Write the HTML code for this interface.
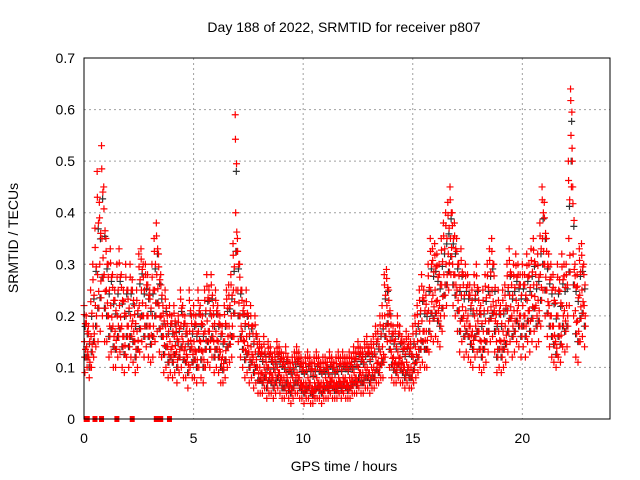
<!DOCTYPE html>
<html><head><meta charset="utf-8"><style>
body{margin:0;background:#fff;}
svg{display:block;font-family:"Liberation Sans",sans-serif;}
</style></head><body>
<svg id="chart" width="640" height="480" xmlns="http://www.w3.org/2000/svg">
<rect width="640" height="480" fill="#fff"/>
<text x="344" y="32" font-size="14" text-anchor="middle">Day 188 of 2022, SRMTID for receiver p807</text>
<text transform="translate(18,238) rotate(-90)" font-size="14" text-anchor="middle">SRMTID / TECUs</text>
<text x="344" y="471" font-size="14" text-anchor="middle">GPS time / hours</text>
<g id="grid"></g><g id="marks"></g>
<rect x="84" y="58" width="526" height="361" fill="none" stroke="#000" stroke-width="1"/>
</svg>
<script>
const xTicks=[0,5,10,15,20];
const yTicks=[0,0.1,0.2,0.3,0.4,0.5,0.6,0.7];
const yTickLabels=["0","0.1","0.2","0.3","0.4","0.5","0.6","0.7"];
const tStart=0, tStep=0.1;
const hi=[.22,.20,.18,.25,.30,.37,.48,.42,.53,.45,.35,.30,.33,.28,.25,.30,.33,.28,.25,.30,.25,.30,.27,.22,.25,.32,.33,.30,.30,.28,.25,.30,.35,.38,.32,.28,.22,.25,.20,.22,.20,.22,.18,.20,.25,.22,.20,.18,.25,.20,.22,.20,.25,.22,.20,.25,.28,.25,.28,.22,.25,.22,.20,.18,.22,.25,.26,.28,.34,.59,.35,.30,.25,.22,.25,.20,.22,.18,.20,.16,.15,.14,.16,.12,.15,.14,.12,.13,.15,.14,.13,.12,.14,.12,.11,.12,.13,.14,.13,.12,.11,.12,.13,.12,.11,.12,.13,.12,.11,.12,.12,.11,.13,.12,.11,.12,.13,.12,.13,.12,.12,.13,.12,.14,.13,.15,.14,.13,.15,.16,.14,.15,.16,.18,.17,.20,.22,.28,.29,.25,.20,.18,.17,.20,.18,.16,.15,.17,.16,.15,.18,.20,.22,.25,.28,.25,.24,.30,.35,.33,.34,.32,.30,.35,.38,.40,.42,.45,.40,.38,.35,.30,.33,.28,.30,.28,.26,.25,.28,.30,.25,.22,.25,.28,.30,.33,.35,.30,.22,.25,.22,.25,.26,.30,.33,.28,.30,.32,.30,.28,.30,.28,.32,.30,.33,.35,.30,.32,.38,.45,.42,.35,.32,.30,.28,.25,.30,.27,.32,.30,.30,.50,.64,.45,.30,.28,.33,.34,.30];
const mid=[.15,.14,.12,.16,.18,.22,.28,.30,.35,.28,.25,.20,.22,.18,.17,.20,.22,.18,.16,.20,.18,.20,.19,.15,.17,.22,.25,.20,.22,.20,.18,.20,.25,.28,.22,.20,.16,.18,.14,.15,.14,.16,.13,.15,.18,.15,.14,.12,.17,.14,.15,.13,.17,.15,.13,.17,.19,.17,.20,.15,.17,.15,.13,.12,.15,.18,.18,.20,.25,.40,.25,.20,.17,.15,.16,.13,.14,.12,.13,.10,.10,.09,.10,.08,.10,.09,.08,.09,.10,.09,.08,.08,.09,.07,.07,.08,.09,.09,.08,.07,.07,.07,.08,.07,.06,.07,.08,.07,.07,.07,.08,.07,.08,.08,.07,.07,.08,.07,.08,.08,.07,.08,.08,.09,.08,.10,.09,.09,.10,.10,.09,.10,.10,.12,.11,.13,.14,.20,.22,.17,.13,.12,.11,.13,.12,.11,.10,.11,.10,.10,.12,.14,.15,.17,.19,.17,.17,.21,.25,.24,.25,.23,.22,.26,.28,.30,.32,.35,.30,.28,.25,.21,.24,.20,.21,.20,.18,.17,.20,.21,.17,.15,.17,.19,.21,.24,.25,.21,.15,.17,.15,.17,.18,.21,.24,.20,.21,.23,.22,.20,.22,.20,.23,.21,.24,.26,.22,.23,.28,.35,.30,.25,.22,.20,.18,.15,.20,.18,.22,.21,.22,.35,.55,.32,.21,.19,.24,.25,.22];
const lo=[.09,.10,.08,.10,.12,.14,.15,.17,.20,.15,.15,.12,.13,.10,.10,.12,.13,.10,.09,.12,.10,.12,.11,.09,.10,.13,.15,.12,.14,.12,.11,.12,.15,.17,.13,.12,.09,.10,.08,.09,.08,.09,.07,.09,.10,.08,.08,.06,.10,.08,.08,.07,.10,.08,.07,.10,.11,.10,.12,.09,.10,.09,.07,.07,.08,.10,.11,.12,.16,.25,.15,.12,.10,.08,.09,.07,.08,.06,.07,.05,.05,.05,.06,.04,.05,.05,.04,.05,.06,.05,.04,.04,.05,.04,.03,.04,.05,.05,.04,.04,.03,.04,.04,.03,.03,.04,.04,.04,.03,.04,.04,.04,.05,.04,.04,.04,.05,.04,.05,.04,.04,.04,.05,.05,.05,.06,.05,.05,.06,.06,.05,.06,.06,.07,.07,.08,.08,.12,.15,.10,.08,.07,.07,.08,.07,.07,.06,.07,.06,.06,.07,.08,.09,.10,.11,.10,.10,.13,.16,.15,.16,.15,.14,.17,.20,.22,.25,.28,.22,.20,.17,.13,.15,.12,.13,.12,.11,.10,.12,.13,.10,.09,.10,.11,.13,.15,.16,.13,.09,.10,.09,.10,.11,.13,.15,.12,.13,.15,.14,.12,.14,.12,.15,.13,.15,.17,.14,.15,.18,.25,.20,.16,.14,.12,.11,.10,.12,.11,.14,.13,.14,.22,.45,.20,.12,.11,.15,.16,.14];
const zeroTimes=[0.1,0.15,0.5,0.8,1.5,2.2,3.3,3.4,3.5,3.9];

const X0=84,X1=610,Y0=419,Y1=58;
const xs=t=>X0+t/24*(X1-X0);
const ys=v=>Y0-v/0.7*(Y0-Y1);
const NS="http://www.w3.org/2000/svg";
const grid=document.getElementById('grid'), marks=document.getElementById('marks');
function mk(tag,attrs,parent){const e=document.createElementNS(NS,tag);for(const k in attrs)e.setAttribute(k,attrs[k]);parent.appendChild(e);return e;}
yTicks.forEach((v,i)=>{
  const y=ys(v);
  if(i>0&&i<yTicks.length-1){const l=mk('line',{x1:X0,x2:X1,y1:y,y2:y,stroke:'#a0a0a0','stroke-dasharray':'2,3'},grid);
  
  }
  const t=mk('text',{x:75,y:y+5,'font-size':14,'text-anchor':'end'},grid);t.textContent=yTickLabels[i];
  
  
});
xTicks.forEach(v=>{
  const x=xs(v);
  if(v>0){const l=mk('line',{x1:x,x2:x,y1:Y1,y2:Y0,stroke:'#a0a0a0','stroke-dasharray':'2,3'},grid);
  
  }
  const t=mk('text',{x:x,y:443,'font-size':14,'text-anchor':'middle'},grid);t.textContent=String(v);
  
  
});
function plus(t,v,color,name){
  const x=xs(t),y=ys(v);
  const p=mk('path',{d:`M${x-3.5},${y}h7M${x},${y-3.5}v7`,stroke:color,'stroke-width':1.2,fill:'none'},marks);
  
  
}
for(let i=0;i<hi.length;i++){
  const t=tStart+i*tStep;
  plus(t+0.05,(hi[i]+mid[i])/2*0.97,'#333','black-point');
  plus(t+0.03,(mid[i]+lo[i])/2,'#333','black-point');
}
for(let i=0;i<hi.length;i++){
  const t=tStart+i*tStep;
  plus(t,hi[i],'#f00','red-point');
  plus(t+0.02,mid[i],'#f00','red-point');
  plus(t+0.04,lo[i],'#f00','red-point');
  plus(t+0.06,(hi[i]+mid[i])/2,'#f00','red-point');
  plus(t+0.08,(mid[i]+lo[i])/2,'#f00','red-point');
  plus(t+0.01,(hi[i]*3+mid[i])/4,'#f00','red-point');
  plus(t+0.07,(mid[i]*3+lo[i])/4,'#f00','red-point');
}
zeroTimes.forEach(t=>{
  const r=mk('rect',{x:xs(t)-2.5,y:Y0-3,width:5,height:6,fill:'#f00'},marks);
  
  
});
</script>
</body></html>
